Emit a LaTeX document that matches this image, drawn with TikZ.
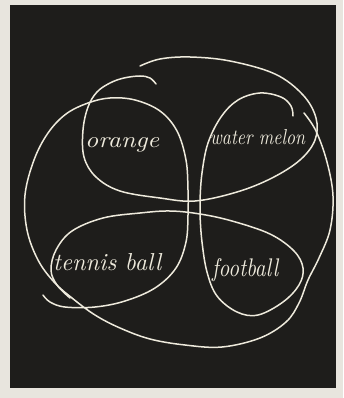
\documentclass[tikz,border=0pt]{standalone}
\usepackage{graphicx}
\definecolor{paper}{HTML}{E8E5DE}
\definecolor{board}{HTML}{1E1D1B}
\definecolor{chalk}{HTML}{EEEADC}
\tikzset{
  chalkline/.style={draw=chalk, line width=1.5pt, line cap=round, line join=round},
  hand/.style={text=chalk, inner sep=0pt, anchor=base west}
}
\begin{document}
\begin{tikzpicture}[x=1pt,y=-1pt]
\fill[paper] (0,0) rectangle (343,398);
\useasboundingbox (0,0) rectangle (343,398);
\fill[board] (10,5) rectangle (336,388);
% orange left side, bottoms of orange and water melon, top arc
\draw[chalkline] plot[smooth, tension=0.6] coordinates {
 (156,84) (150,78) (140,76) (124,78) (110,83) (97,92) (88,107) (83,130)
 (84,157) (96,177) (120,191) (160,198) (195,201) (237,192) (272,178)
 (300,160) (315,140) (316,118) (303,95) (275,74) (230,61) (190,57)
 (160,59) (140,66)};
% giant outer loop
\draw[chalkline] plot[smooth, tension=0.6] coordinates {
 (304,113) (316,131) (327,162) (333,196) (330,230) (319,258) (308,280)
 (299,303) (286,322) (260,338) (222,347) (185,345) (150,339) (120,328)
 (95,315) (72,298) (54,282) (38,260) (27,230) (25,195) (34,160) (48,133)
 (66,114) (88,103) (110,98) (135,100) (160,111) (177,131) (186,160)
 (188,190) (188,215) (186,242) (176,268) (155,288) (125,301) (95,307)
 (65,307) (50,302) (43,295)};
% water melon left side, football loop, tennis ball top
\draw[chalkline] plot[smooth, tension=0.6] coordinates {
 (293,116) (291,106) (281,97) (260,93) (238,100) (221,117) (208,143)
 (202,173) (200,200) (200,215) (202,242) (207,272) (217,296) (237,312)
 (258,315) (283,302) (299,285) (303,268) (294,251) (270,234) (232,221)
 (200,214) (170,211) (140,213) (103,218) (72,231) (56,250) (51,270)
 (57,285) (70,298)};
% labels
\node[hand] (orange) at (85,147) {\resizebox{74pt}{10pt}{\itshape orange}};
\node[hand] (melon) at (210,145) {\resizebox{95pt}{15pt}{\itshape water melon}};
\node[hand] (tennis) at (53,270) {\resizebox{108pt}{17pt}{\itshape tennis ball}};
\node[hand] (football) at (212,276) {\resizebox{66pt}{18pt}{\itshape football}};
\end{tikzpicture}
\end{document}
